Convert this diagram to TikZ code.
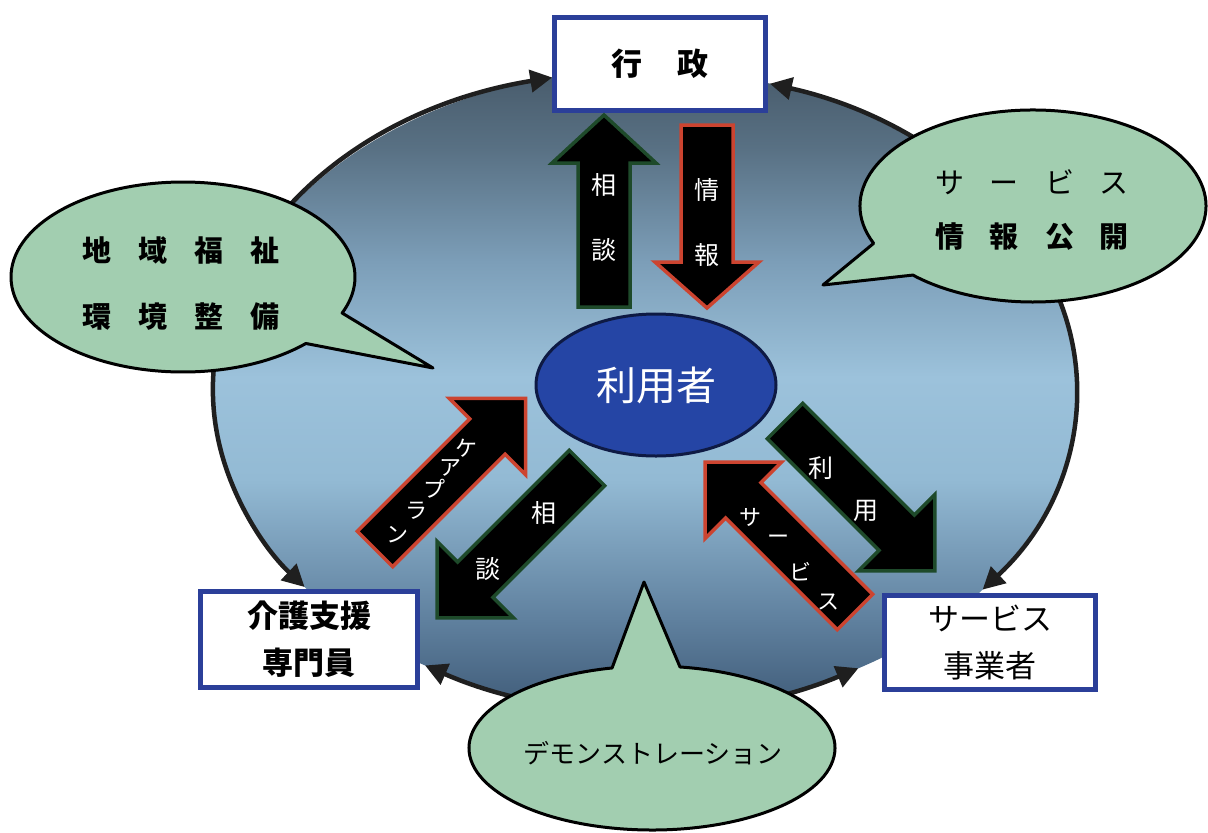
\documentclass[tikz,border=0pt]{standalone}
\usepackage{fontspec}
\newfontfamily\jp{Noto Sans CJK JP}
\usetikzlibrary{arrows.meta,shapes.geometric}
\definecolor{boxblue}{HTML}{2B3F99}
\definecolor{bubgreen}{HTML}{A2CEB0}
\definecolor{userblue}{HTML}{2545A5}
\definecolor{userline}{HTML}{0E1A44}
\definecolor{arrred}{HTML}{CC4430}
\definecolor{arrgreen}{HTML}{1E4A2A}
\definecolor{shA}{HTML}{3F5B78}
\definecolor{shB}{HTML}{5F809E}
\definecolor{shC}{HTML}{93BAD4}
\definecolor{shD}{HTML}{9CC2DB}
\definecolor{shE}{HTML}{7C9EB8}
\definecolor{shF}{HTML}{587083}
\definecolor{shG}{HTML}{485B6B}
\pgfdeclareverticalshading{bigshade}{100bp}{color(0bp)=(shA); color(25bp)=(shA); color(32bp)=(shB); color(43bp)=(shC); color(51bp)=(shD); color(60bp)=(shE); color(69bp)=(shF); color(75bp)=(shG); color(100bp)=(shG)}
\tikzset{
 ring/.style={line width=4.5pt, draw=black!88, {Triangle[length=22pt,width=22pt]}-{Triangle[length=22pt,width=22pt]}},
 boxnode/.style={draw=boxblue, line width=5pt, fill=white, inner sep=0pt, align=center},
 boxbold/.style={font=\jp\bfseries\fontsize{31}{47}\selectfont},
 boxreg/.style={font=\jp\fontsize{31}{47}\selectfont},
 bubble/.style={fill=bubgreen, draw=black, line width=3pt, line join=round},
 btext/.style={font=\jp\bfseries\fontsize{29}{34}\selectfont, inner sep=0pt},
 btextreg/.style={font=\jp\fontsize{29}{34}\selectfont, inner sep=0pt},
 wtext/.style={text=white, font=\jp\fontsize{25}{30}\selectfont, inner sep=0pt},
 ktext/.style={text=white, font=\jp\fontsize{22}{26}\selectfont, inner sep=0pt},
 blockar/.style={fill=black, line width=3.5pt, line join=miter},
}
\newcommand{\blockarrow}[8]{%
 \begin{scope}[shift={(#1,#2)},rotate=#3]
 \draw[blockar,draw=#8] (0,-#6) -- ({#4-#5},-#6) -- ({#4-#5},-#7) -- (#4,0) -- ({#4-#5},#7) -- ({#4-#5},#6) -- (0,#6) -- cycle;
 \end{scope}}
\begin{document}
\begin{tikzpicture}[x=1pt,y=-1pt]
\useasboundingbox (0,0) rectangle (1208,833);
\fill[white] (0,0) rectangle (1208,833);
% big shaded ellipse
\shade[shading=bigshade] (645,390) ellipse [x radius=432, y radius=320];
% ring end points
\path (645,390) ++(-102.4:432 and 320) coordinate (gyoL);
\path (645,390) ++(-218:432 and 320) coordinate (kaiT);
\path (645,390) ++(-73.2:432 and 320) coordinate (gyoR);
\path (645,390) ++(38.6:432 and 320) coordinate (jigT);
\path (645,390) ++(-239.4:432 and 320) coordinate (kaiR);
\path (645,390) ++(-299.6:432 and 320) coordinate (jigL);
\draw[ring] (gyoL) arc[start angle=-102.4, end angle=-218, x radius=432, y radius=320];
\draw[ring] (gyoR) arc[start angle=-73.2, end angle=38.6, x radius=432, y radius=320];
\draw[ring] (kaiR) arc[start angle=-239.4, end angle=-299.6, x radius=432, y radius=320];
% boxes
\node[boxnode, boxbold, minimum width=211pt, minimum height=93pt] (gyosei) at (660,64) {行\hspace{35pt}政};
\node[boxnode, boxbold, minimum width=217pt, minimum height=96pt] (kaigo) at (309,639.5) {介護支援\\専門員};
\node[boxnode, boxreg, minimum width=211pt, minimum height=94pt] (jigyo) at (990,642.5) {サービス\\事業者};
% bubbles
\draw[bubble] (183,277) ++(44.4:172 and 95) arc[start angle=44.4, end angle=382.3, x radius=172, y radius=95] -- (433,368) -- cycle;
\node[btext] (b1a) at (181,250) {地\hspace{27pt}域\hspace{27pt}福\hspace{27pt}祉};
\node[btext] (b1b) at (181,317) {環\hspace{27pt}境\hspace{27pt}整\hspace{27pt}備};
\draw[bubble] (1033,206) ++(157.1:173 and 96) arc[start angle=157.1, end angle=493.98, x radius=173, y radius=96] -- (823,285) -- cycle;
\node[btextreg] (b2a) at (1032,182) {サ\hspace{26pt}ー\hspace{26pt}ビ\hspace{26pt}ス};
\node[btext] (b2b) at (1032,237) {情\hspace{26pt}報\hspace{26pt}公\hspace{26pt}開};
\draw[bubble] (652,748) ++(278.8:183 and 82) arc[start angle=278.8, end angle=617.4, x radius=183, y radius=82] -- (644,582) -- cycle;
\node[font=\jp\fontsize{26}{30}\selectfont, inner sep=0pt] (demo) at (653,753) {デモンストレーション};
% user ellipse
\node[ellipse, draw=userline, fill=userblue, line width=3pt, minimum width=240pt, minimum height=142pt, inner sep=0pt, text=white, font=\jp\fontsize{40}{48}\selectfont] (user) at (656,385) {利用者};
% block arrows
\blockarrow{604}{307}{90}{192}{48}{26}{52}{arrgreen}
\blockarrow{707}{125}{-90}{183}{46}{26}{52}{arrred}
\blockarrow{375}{549}{45}{213}{54}{25}{54}{arrred}
\blockarrow{587}{468}{-135}{212}{54}{25}{54}{arrgreen}
\blockarrow{785}{421}{-45}{212}{54}{25}{54}{arrgreen}
\blockarrow{855}{612}{135}{212}{54}{25}{54}{arrred}
% arrow texts
\node[wtext] (t1) at (604,185) {相};
\node[wtext] (t2) at (604,250) {談};
\node[wtext] (t3) at (707,190) {情};
\node[wtext] (t4) at (707,255) {報};
\node[ktext] (k1) at (466,448) {ケ};
\node[ktext] (k2) at (450,468) {ア};
\node[ktext] (k3) at (434,489) {プ};
\node[ktext] (k4) at (416,511) {ラ};
\node[ktext] (k5) at (397,535) {ン};
\node[wtext] (s1) at (544,513) {相};
\node[wtext] (s2) at (488,569) {談};
\node[wtext] (r1) at (821,468) {利};
\node[wtext] (r2) at (866,511) {用};
\node[ktext] (v1) at (750,517) {サ};
\node[ktext] (v2) at (778,540) {ー};
\node[ktext] (v3) at (800,572) {ビ};
\node[ktext] (v4) at (828,602) {ス};
\end{tikzpicture}
\end{document}
